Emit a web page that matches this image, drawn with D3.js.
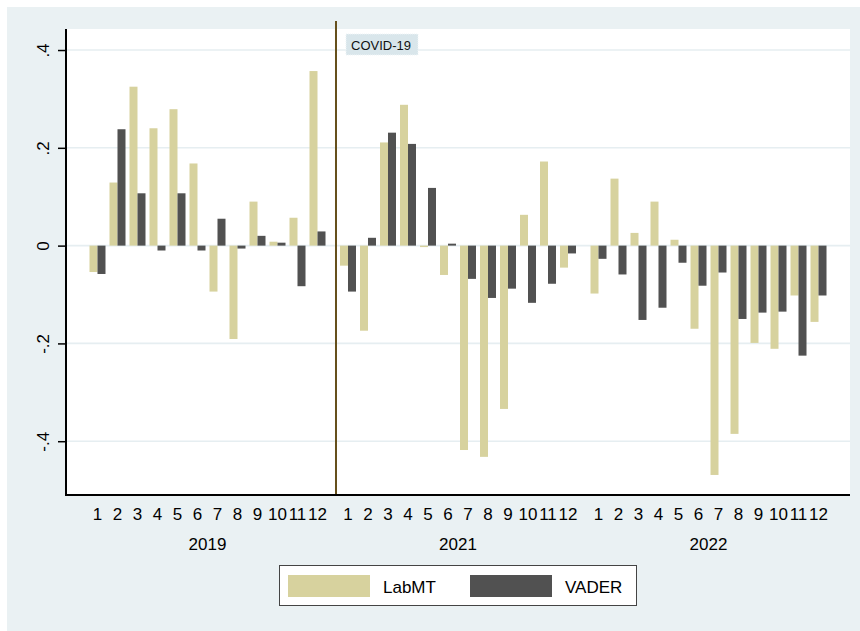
<!DOCTYPE html>
<html>
<head>
<meta charset="utf-8">
<script src="https://cdn.jsdelivr.net/npm/d3@7"></script>
<style>
  html, body { margin: 0; padding: 0; background: #ffffff; }
  svg { display: block; font-family: "Liberation Sans", Arial, Helvetica, sans-serif; }
</style>
</head>
<body>
<svg id="chart" width="860" height="631"></svg>
<script>
// Monthly sentiment change by lexicon
const years = ["2019", "2021", "2022"];
const months = [1, 2, 3, 4, 5, 6, 7, 8, 9, 10, 11, 12];
const seriesNames = ["LabMT", "VADER"];

const labmt2019 = [-0.054, 0.129, 0.325, 0.240, 0.279, 0.168, -0.094, -0.191, 0.090, 0.008, 0.057, 0.357];
const vader2019 = [-0.058, 0.238, 0.107, -0.010, 0.107, -0.010, 0.055, -0.006, 0.020, 0.006, -0.083, 0.029];
const labmt2021 = [-0.041, -0.174, 0.211, 0.288, -0.003, -0.060, -0.418, -0.432, -0.334, 0.063, 0.172, -0.045];
const vader2021 = [-0.094, 0.016, 0.231, 0.208, 0.118, 0.004, -0.068, -0.107, -0.088, -0.117, -0.078, -0.016];
const labmt2022 = [-0.098, 0.137, 0.026, 0.090, 0.012, -0.170, -0.469, -0.385, -0.199, -0.211, -0.102, -0.156];
const vader2022 = [-0.027, -0.059, -0.152, -0.127, -0.035, -0.082, -0.055, -0.150, -0.137, -0.135, -0.225, -0.102];

const yTicks = [-0.4, -0.2, 0, 0.2, 0.4];
const yTickLabels = ["-.4", "-.2", "0", ".2", ".4"];

const eventYear = "2021";
const eventLabel = "COVID-19";

const seriesByYear = {
  "2019": [labmt2019, vader2019],
  "2021": [labmt2021, vader2021],
  "2022": [labmt2022, vader2022]
};

const colors = { LabMT: "#d7d29e", VADER: "#515151" };

const W = 860, H = 631;
const plot = { left: 66, right: 850, top: 29, bottom: 495 };

const svg = d3.select("#chart");

// outer graph region
svg.append("rect").attr("x", 7).attr("y", 7).attr("width", W - 7).attr("height", H - 7)
  .attr("fill", "#eaf1f3");
// plot region
svg.append("rect").attr("x", plot.left).attr("y", plot.top)
  .attr("width", plot.right - plot.left).attr("height", plot.bottom - plot.top)
  .attr("fill", "#ffffff");

// scales
const xYear = d3.scaleBand().domain(years).range([plot.left, plot.right])
  .paddingInner(0.0419).paddingOuter(0.0858);
const xMonth = d3.scaleBand().domain(months).range([0, xYear.bandwidth()]).padding(0);
const xSeries = d3.scaleBand().domain(seriesNames).range([0, xMonth.bandwidth()])
  .paddingInner(0).paddingOuter(0.25);
const y = d3.scaleLinear().domain([-0.51, 0.443]).range([plot.bottom, plot.top]);

// grid lines
svg.append("g").selectAll("line").data(yTicks).join("line")
  .attr("x1", plot.left).attr("x2", plot.right)
  .attr("y1", d => y(d)).attr("y2", d => y(d))
  .attr("stroke", "#e6eef1").attr("stroke-width", 1.6);

// bars
const rows = [];
years.forEach(yr => {
  months.forEach((m, i) => {
    seriesNames.forEach((s, k) => {
      rows.push({ year: yr, month: m, series: s, value: seriesByYear[yr][k][i] });
    });
  });
});

svg.append("g").selectAll("rect").data(rows).join("rect")
  .attr("x", d => xYear(d.year) + xMonth(d.month) + xSeries(d.series))
  .attr("width", xSeries.bandwidth())
  .attr("y", d => y(Math.max(0, d.value)))
  .attr("height", d => Math.abs(y(d.value) - y(0)))
  .attr("fill", d => colors[d.series]);

// event line between the year groups
const eventX = xYear(eventYear) - 2;
svg.append("line")
  .attr("x1", eventX).attr("x2", eventX)
  .attr("y1", plot.top - 8).attr("y2", plot.bottom)
  .attr("stroke", "#66501c").attr("stroke-width", 2);

// event label box
const lbl = svg.append("g").attr("transform", `translate(${eventX + 10},${plot.top + 5})`);
lbl.append("rect").attr("x", 0).attr("y", 0).attr("width", 72).attr("height", 21)
  .attr("fill", "#d9e6eb").attr("stroke", "#eef4f6").attr("stroke-width", 1)
  .attr("stroke-dasharray", "1,1");
lbl.append("text").attr("x", 5).attr("y", 15.5)
  .attr("font-size", 13).attr("fill", "#111").text(eventLabel);

// y axis
const yAxis = d3.axisLeft(y).tickValues(yTicks).tickSize(8)
  .tickFormat((d, i) => yTickLabels[i]);
const gy = svg.append("g").attr("transform", `translate(${plot.left},0)`).call(yAxis);
gy.select(".domain").remove();
gy.selectAll(".tick line").attr("stroke", "#000").attr("stroke-width", 1.5);
gy.selectAll(".tick text")
  .attr("x", null).attr("dy", null)
  .attr("transform", "translate(-17,0) rotate(-90)")
  .attr("text-anchor", "middle")
  .attr("font-size", 17).attr("font-family", "Liberation Sans, Arial, sans-serif")
  .attr("fill", "#000");

// axis lines
svg.append("line").attr("x1", plot.left).attr("x2", plot.left)
  .attr("y1", plot.top).attr("y2", plot.bottom + 1)
  .attr("stroke", "#000").attr("stroke-width", 2);
svg.append("line").attr("x1", plot.left - 1).attr("x2", plot.right)
  .attr("y1", plot.bottom).attr("y2", plot.bottom)
  .attr("stroke", "#000").attr("stroke-width", 2);

// month labels and year labels
years.forEach(yr => {
  const gx = svg.append("g").attr("transform", `translate(${xYear(yr)},0)`);
  gx.selectAll("text").data(months).join("text")
    .attr("x", m => xMonth(m) + xMonth.bandwidth() / 2)
    .attr("y", 520)
    .attr("text-anchor", "middle")
    .attr("font-size", 17).attr("fill", "#000")
    .text(m => m);
  svg.append("text")
    .attr("x", xYear(yr) + xYear.bandwidth() / 2)
    .attr("y", 550)
    .attr("text-anchor", "middle")
    .attr("font-size", 17).attr("fill", "#000")
    .text(yr);
});

// legend
const lg = svg.append("g");
lg.append("rect").attr("x", 279.5).attr("y", 565.5).attr("width", 357).attr("height", 40)
  .attr("fill", "#ffffff").attr("stroke", "#444").attr("stroke-width", 1);
const legendX = [288, 470];
seriesNames.forEach((s, i) => {
  lg.append("rect").attr("x", legendX[i]).attr("y", 575).attr("width", 82).attr("height", 22)
    .attr("fill", colors[s]);
  lg.append("text").attr("x", legendX[i] + 95).attr("y", 592.5)
    .attr("font-size", 17).attr("fill", "#000").text(s);
});
</script>
</body>
</html>
